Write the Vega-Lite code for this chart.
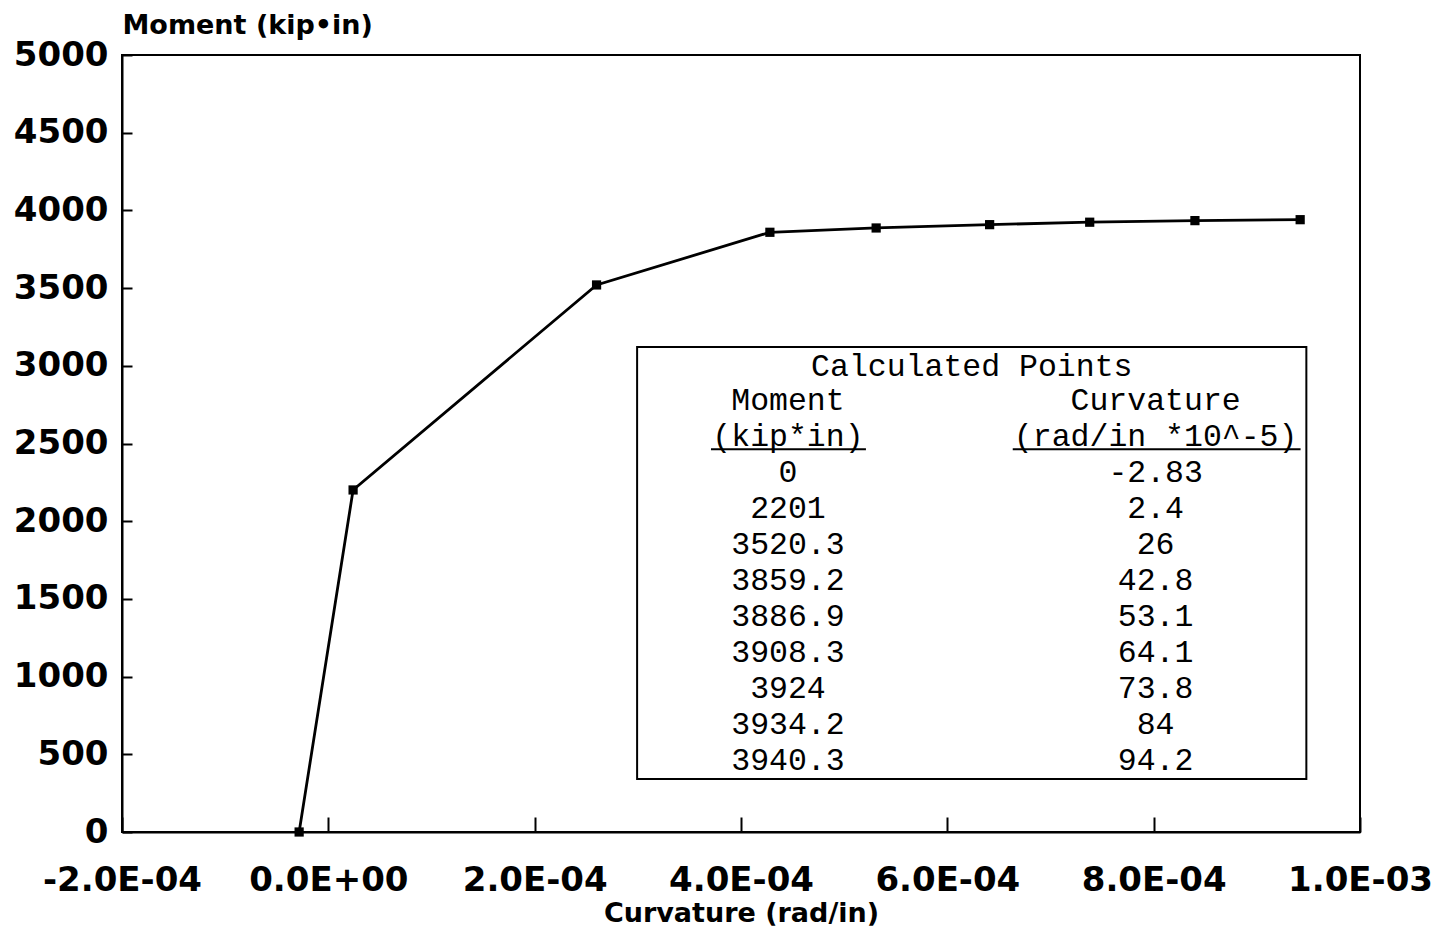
{
  "$schema": "https://vega.github.io/schema/vega-lite/v6.json",
  "width": 1238,
  "height": 777,
  "autosize": {"type": "none"},
  "padding": {"left": 122, "top": 55, "right": 76, "bottom": 99},
  "background": "white",
  "config": {
    "view": {"stroke": "black", "strokeWidth": 2},
    "axis": {"grid": false, "domainColor": "black", "domainWidth": 2, "tickColor": "black", "tickWidth": 2, "labelColor": "black", "titleColor": "black", "labelFont": "DejaVu Sans", "labelFontWeight": "bold", "labelFontSize": 34, "titleFont": "DejaVu Sans", "titleFontWeight": "bold", "titleFontSize": 27, "labelFlush": false, "labelOverlap": false}
  },
  "data": {"values": [
    {"moment": 0, "curv": -2.83},
    {"moment": 2201, "curv": 2.4},
    {"moment": 3520.3, "curv": 26},
    {"moment": 3859.2, "curv": 42.8},
    {"moment": 3886.9, "curv": 53.1},
    {"moment": 3908.3, "curv": 64.1},
    {"moment": 3924, "curv": 73.8},
    {"moment": 3934.2, "curv": 84},
    {"moment": 3940.3, "curv": 94.2}
  ]},
  "resolve": {"scale": {"y": "independent"}},
  "layer": [
    {
      "layer": [
        {
          "mark": {"type": "line", "color": "black", "strokeWidth": 2.8},
          "encoding": {
            "x": {"field": "curv", "type": "quantitative", "scale": {"domain": [-20, 100], "nice": false, "zero": false},
              "axis": {"values": [-20, 0, 20, 40, 60, 80, 100], "tickSize": -15, "labelPadding": 46,
                "labelExpr": "datum.value == 0 ? '0.0E+00' : (datum.value < 0 ? '-' : '') + replace(format(abs(datum.value) * 1e-5, '.1e'), 'e-', 'E-0')",
                "title": "Curvature (rad/in)", "titleY": 89, "titleBaseline": "alphabetic"}},
            "y": {"field": "moment", "type": "quantitative", "scale": {"domain": [0, 5000], "nice": false},
              "axis": {"values": [0, 500, 1000, 1500, 2000, 2500, 3000, 3500, 4000, 4500, 5000], "format": "d", "tickSize": -10, "labelPadding": 24,
                "title": "Moment (kip•in)", "titleAngle": 0, "titleAlign": "left", "titleBaseline": "alphabetic", "titleX": 0, "titleY": -22}}
          }
        },
        {
          "mark": {"type": "point", "shape": "square", "filled": true, "color": "black", "size": 85, "opacity": 1},
          "encoding": {
            "x": {"field": "curv", "type": "quantitative"},
            "y": {"field": "moment", "type": "quantitative"}
          }
        }
      ]
    },
    {
      "layer": [
        {
          "data": {"values": [{"label": "box"}]},
          "mark": {"type": "rect", "fill": "white", "stroke": "black", "strokeWidth": 2},
          "encoding": {
            "x": {"datum": 29.93, "type": "quantitative"},
            "x2": {"datum": 94.8},
            "y": {"datum": -2.5, "type": "quantitative", "scale": {"domain": [-10.611, 10.972], "reverse": true, "nice": false, "zero": false}, "axis": null},
            "y2": {"datum": 9.5}
          }
        },
        {
          "data": {"values": [{"label": "Calculated Points"}]},
          "mark": {"type": "text", "font": "Liberation Mono", "fontSize": 31.5, "align": "center", "baseline": "middle", "color": "black"},
          "encoding": {
            "x": {"datum": 62.37, "type": "quantitative"},
            "y": {"datum": -1.95, "type": "quantitative", "axis": null},
            "text": {"field": "label", "type": "nominal"}
          }
        },
        {
          "data": {"values": [{"label": "Moment"}]},
          "mark": {"type": "text", "font": "Liberation Mono", "fontSize": 31.5, "align": "center", "baseline": "middle", "color": "black"},
          "encoding": {
            "x": {"datum": 44.55, "type": "quantitative"},
            "y": {"datum": -1, "type": "quantitative", "axis": null},
            "text": {"field": "label", "type": "nominal"}
          }
        },
        {
          "data": {"values": [{"label": "Curvature"}]},
          "mark": {"type": "text", "font": "Liberation Mono", "fontSize": 31.5, "align": "center", "baseline": "middle", "color": "black"},
          "encoding": {
            "x": {"datum": 80.19, "type": "quantitative"},
            "y": {"datum": -1, "type": "quantitative", "axis": null},
            "text": {"field": "label", "type": "nominal"}
          }
        },
        {
          "data": {"values": [{"label": "(kip*in)"}]},
          "mark": {"type": "text", "font": "Liberation Mono", "fontSize": 31.5, "align": "center", "baseline": "middle", "color": "black"},
          "encoding": {
            "x": {"datum": 44.55, "type": "quantitative"},
            "y": {"datum": 0, "type": "quantitative", "axis": null},
            "text": {"field": "label", "type": "nominal"}
          }
        },
        {
          "data": {"values": [{"label": "(rad/in *10^-5)"}]},
          "mark": {"type": "text", "font": "Liberation Mono", "fontSize": 31.5, "align": "center", "baseline": "middle", "color": "black"},
          "encoding": {
            "x": {"datum": 80.19, "type": "quantitative"},
            "y": {"datum": 0, "type": "quantitative", "axis": null},
            "text": {"field": "label", "type": "nominal"}
          }
        },
        {
          "data": {"values": [{"label": "underline moment"}]},
          "mark": {"type": "rule", "color": "black", "strokeWidth": 2},
          "encoding": {
            "x": {"datum": 37.09, "type": "quantitative"},
            "x2": {"datum": 52.11},
            "y": {"datum": 0.34, "type": "quantitative", "axis": null}
          }
        },
        {
          "data": {"values": [{"label": "underline curvature"}]},
          "mark": {"type": "rule", "color": "black", "strokeWidth": 2},
          "encoding": {
            "x": {"datum": 66.34, "type": "quantitative"},
            "x2": {"datum": 94.24},
            "y": {"datum": 0.34, "type": "quantitative", "axis": null}
          }
        },
        {
          "transform": [{"window": [{"op": "row_number", "as": "row"}], "sort": [{"field": "moment", "order": "ascending"}]}],
          "mark": {"type": "text", "font": "Liberation Mono", "fontSize": 31.5, "align": "center", "baseline": "middle", "color": "black"},
          "encoding": {
            "x": {"datum": 44.55, "type": "quantitative"},
            "y": {"field": "row", "type": "quantitative", "axis": null},
            "text": {"field": "moment", "type": "nominal"}
          }
        },
        {
          "transform": [{"window": [{"op": "row_number", "as": "row"}], "sort": [{"field": "moment", "order": "ascending"}]}],
          "mark": {"type": "text", "font": "Liberation Mono", "fontSize": 31.5, "align": "center", "baseline": "middle", "color": "black"},
          "encoding": {
            "x": {"datum": 80.19, "type": "quantitative"},
            "y": {"field": "row", "type": "quantitative", "axis": null},
            "text": {"field": "curv", "type": "nominal"}
          }
        }
      ]
    }
  ]
}
